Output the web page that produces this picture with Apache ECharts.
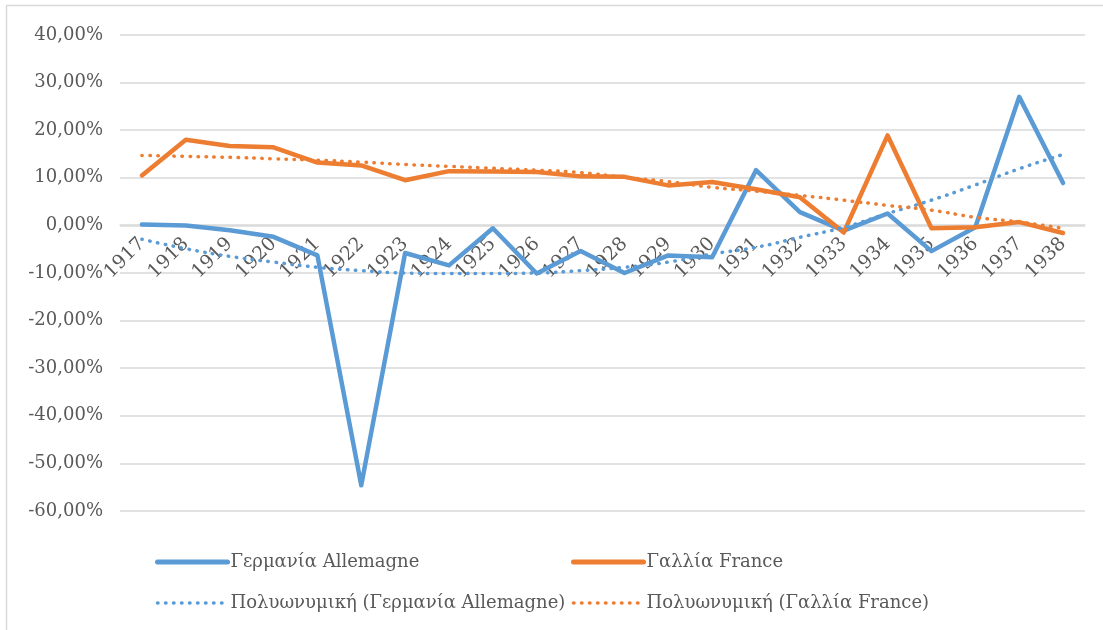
<!DOCTYPE html>
<html>
<head>
<meta charset="utf-8">
<script src="https://cdn.jsdelivr.net/npm/echarts@6/dist/echarts.min.js"></script>
<style>
  html, body { margin: 0; padding: 0; background: #fff; }
  #chart { width: 1103px; height: 630px; }
</style>
</head>
<body>
<div id="chart"></div>
<script>
var years = ['1917','1918','1919','1920','1921','1922','1923','1924','1925','1926','1927',
  '1928','1929','1930','1931','1932','1933','1934','1935','1936','1937','1938'];

// yearly change, %
var germany = [0.2, 0.0, -1.0, -2.4, -6.3, -54.6, -5.8, -8.4, -0.6, -10.1, -5.4,
  -10.0, -6.3, -6.7, 11.6, 2.8, -1.1, 2.5, -5.4, -0.4, 27.0, 8.9];
var france = [10.5, 18.0, 16.7, 16.4, 13.2, 12.6, 9.5, 11.4, 11.3, 11.2, 10.3,
  10.2, 8.4, 9.1, 7.6, 5.9, -1.5, 18.9, -0.6, -0.4, 0.7, -1.6];

// trend lines
var germanyTrend = [-2.9, -4.9, -6.5, -7.7, -8.8, -9.5, -10.0, -10.1, -10.1, -10.0, -9.5,
  -8.8, -7.7, -6.0, -4.6, -2.5, -0.4, 2.5, 5.3, 8.5, 11.9, 14.9];
var franceTrend = [14.7, 14.5, 14.3, 14.0, 13.7, 13.3, 12.8, 12.4, 12.0, 11.6, 11.1,
  10.1, 9.2, 8.0, 7.2, 6.3, 5.3, 4.2, 3.2, 1.7, 0.7, -0.6];

var names = ['Γερμανία Allemagne', 'Γαλλία France',
  'Πολυωνυμική (Γερμανία Allemagne)', 'Πολυωνυμική (Γαλλία France)'];

var blue = '#5b9bd5';
var orange = '#ed7d31';
var font = 'DejaVu Serif';
var textColor = '#595959';
var dots = [0.5, 7.5];

var chart = echarts.init(document.getElementById('chart'));

function solid(name, data, color) {
  return {
    name: name, type: 'line', data: data,
    symbol: 'none', smooth: false,
    lineStyle: { color: color, width: 4.5, join: 'round', cap: 'round' },
    itemStyle: { color: color }
  };
}
function dotted(name, data, color) {
  return {
    name: name, type: 'line', data: data,
    symbol: 'none', smooth: true,
    lineStyle: { color: color, width: 3.5, type: dots, cap: 'round' },
    itemStyle: { color: color }
  };
}

var legendBase = {
  orient: 'vertical',
  top: 547,
  itemWidth: 70,
  itemHeight: 14,
  itemGap: 21,
  itemStyle: { opacity: 0 },
  textStyle: { fontFamily: font, fontSize: 18, color: textColor, lineHeight: 20, padding: [0, 0, 0, -2] }
};

function legendItems(solidName, trendName, color) {
  return [
    { name: solidName, lineStyle: { color: color, width: 5, type: 'solid', cap: 'round' } },
    { name: trendName, lineStyle: { color: color, width: 3.5, type: dots, cap: 'round' } }
  ];
}

// grid: 40% at y=35, -60% at y=511, so 0% sits 286px above the bottom
chart.setOption({
  animation: false,
  backgroundColor: '#fff',
  grid: { left: 120, right: 18, top: 35, bottom: 119 },
  legend: [
    Object.assign({}, legendBase, { left: 150, data: legendItems(names[0], names[2], blue) }),
    Object.assign({}, legendBase, { left: 566, data: legendItems(names[1], names[3], orange) })
  ],
  xAxis: {
    type: 'category',
    data: years,
    boundaryGap: true,
    offset: -286,
    axisLine: { show: true, onZero: false, lineStyle: { color: '#d9d9d9', width: 1.5 } },
    axisTick: { show: false },
    axisLabel: { rotate: 45, margin: 16, interval: 0, fontFamily: font, fontSize: 19, color: textColor }
  },
  yAxis: {
    type: 'value',
    min: -60, max: 40, interval: 10,
    axisLine: { show: false },
    axisTick: { show: false },
    splitLine: { lineStyle: { color: '#d9d9d9', width: 1.5 } },
    axisLabel: {
      margin: 17, fontFamily: font, fontSize: 18, color: textColor,
      formatter: function (v) { return v.toFixed(2).replace('.', ',') + '%'; }
    }
  },
  graphic: [
    { type: 'line', shape: { x1: 6, y1: 5.5, x2: 1103, y2: 5.5 }, style: { stroke: '#d9d9d9', lineWidth: 1.5 } },
    { type: 'line', shape: { x1: 6.5, y1: 5, x2: 6.5, y2: 630 }, style: { stroke: '#d9d9d9', lineWidth: 1.5 } }
  ],
  series: [
    solid(names[0], germany, blue),
    solid(names[1], france, orange),
    dotted(names[2], germanyTrend, blue),
    dotted(names[3], franceTrend, orange)
  ]
});
</script>
</body>
</html>
